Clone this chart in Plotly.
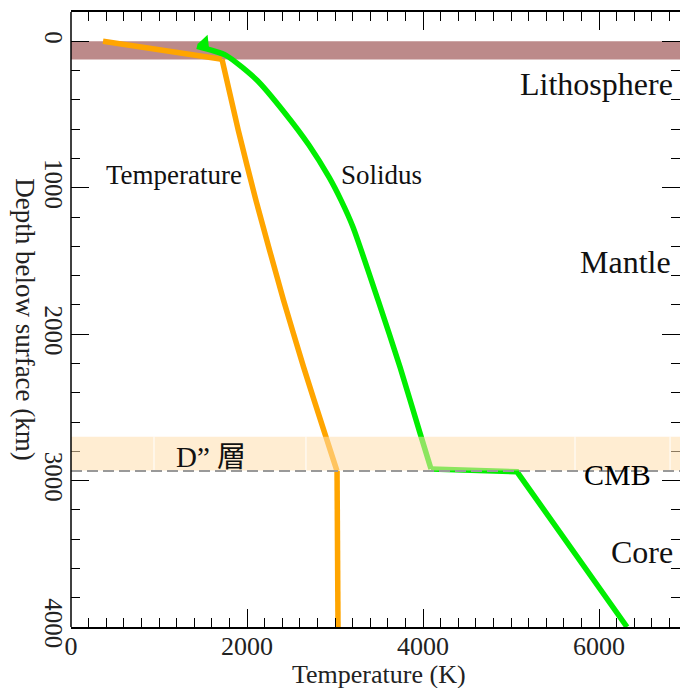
import plotly.graph_objects as go

# Temperature profile (K) vs depth (km): lithosphere segment, mantle curve, core
temp_litho_T = [364, 1716]
temp_litho_d = [0, 123]
temp_mantle_T = [1716, 1901, 2101, 2415, 2643, 2883, 3023]
temp_mantle_d = [123, 608, 1085, 1768, 2225, 2676, 2935]
temp_core_T = [3023, 3034]
temp_core_d = [2935, 4000]

# Solidus (K) vs depth (km): mantle curve, CMB jump, core
sol_mantle_T = [1432, 1761, 2114, 2432, 2705, 2932, 3068, 3205, 3489, 3739, 3966, 4091]
sol_mantle_d = [34, 96, 266, 491, 710, 928, 1085, 1270, 1768, 2225, 2676, 2921]
sol_core_T = [4091, 5068, 6318]
sol_core_d = [2921, 2940, 4000]

# layers (km)
litho = [0, 125]
d_layer = [2700, 2932]
cmb_depth = 2935
band_seams = [943, 2670, 5727, 6807]

# labels: (text, T, depth, size, anchor)
labels = [
    ("Temperature", 1170, 915, 27, "center"),
    ("Solidus", 3523, 915, 27, "center"),
    ("Lithosphere", 6866, 293, 32, "right"),
    ("Mantle", 6845, 1508, 32, "right"),
    ("Core", 6866, 3488, 32, "right"),
]

SERIF = "Liberation Serif, Times New Roman, serif"
ORANGE = "#FFA500"
GREEN = "#00EE00"

fig = go.Figure()
fig.add_trace(go.Scatter(x=temp_litho_T, y=temp_litho_d, mode="lines",
                         line=dict(color=ORANGE, width=5.5), hoverinfo="skip"))
fig.add_trace(go.Scatter(x=temp_mantle_T, y=temp_mantle_d, mode="lines",
                         line=dict(color=ORANGE, width=5.5, shape="spline", smoothing=0.6), hoverinfo="skip"))
fig.add_trace(go.Scatter(x=temp_core_T, y=temp_core_d, mode="lines",
                         line=dict(color=ORANGE, width=5.5), hoverinfo="skip"))
fig.add_trace(go.Scatter(x=sol_mantle_T, y=sol_mantle_d, mode="lines",
                         line=dict(color=GREEN, width=5.5, shape="spline", smoothing=0.6), hoverinfo="skip"))
fig.add_trace(go.Scatter(x=sol_core_T, y=sol_core_d, mode="lines",
                         line=dict(color=GREEN, width=5.5), hoverinfo="skip"))
fig.add_trace(go.Scatter(x=[sol_mantle_T[0] + 90], y=[sol_mantle_d[0] - 22], mode="markers",
                         marker=dict(symbol="triangle-left", size=14, color=GREEN, angle=-6),
                         hoverinfo="skip"))

shapes = []
shapes.append(dict(type="rect", xref="paper", x0=0, x1=1, yref="y", y0=litho[0], y1=litho[1],
                   fillcolor="#BC8A8A", line=dict(width=0), layer="below"))
shapes.append(dict(type="rect", xref="paper", x0=0, x1=1, yref="y", y0=d_layer[0], y1=d_layer[1],
                   fillcolor="navajowhite", opacity=0.55, line=dict(width=0), layer="above"))
for s in band_seams:
    shapes.append(dict(type="line", xref="x", x0=s, x1=s, yref="y", y0=d_layer[0], y1=d_layer[1],
                       line=dict(color="white", width=1), layer="above"))
shapes.append(dict(type="line", xref="paper", x0=0, x1=1, yref="y", y0=cmb_depth, y1=cmb_depth,
                   line=dict(color="#999999", width=2, dash="11px,5px"), layer="above"))
shapes.append(dict(type="line", xref="paper", x0=0, x1=0, yref="paper", y0=0, y1=1,
                   line=dict(color="black", width=1.5), layer="above"))

annotations = []
for text, tx, dy, size, anc in labels:
    annotations.append(dict(text=text, x=tx, y=dy, xref="x", yref="y", showarrow=False,
                            xanchor=anc, yanchor="middle",
                            font=dict(family=SERIF, size=size, color="#111111")))
annotations.append(dict(text="CMB", x=6205, y=2960, xref="x", yref="y", showarrow=False,
                        xanchor="center", yanchor="middle",
                        font=dict(family=SERIF, size=30, color="black")))
annotations.append(dict(text="D” 層", x=1590, y=2842, xref="x", yref="y", showarrow=False,
                        xanchor="center", yanchor="middle",
                        font=dict(family="Liberation Serif, Noto Sans CJK JP, serif", size=29, color="#111111")))
annotations.append(dict(text="Depth below surface (km)", x=-0.075, y=0.5, xref="paper", yref="paper",
                        showarrow=False, textangle=90, xanchor="center", yanchor="middle",
                        font=dict(family=SERIF, size=27, color="#222222")))
annotations.append(dict(text="Temperature (K)", x=0.505, y=-0.078, xref="paper", yref="paper",
                        showarrow=False, xanchor="center", yanchor="middle",
                        font=dict(family=SERIF, size=26, color="#222222")))

fig.update_layout(
    width=680, height=688,
    margin=dict(l=71, r=0, t=12, b=61),
    paper_bgcolor="white", plot_bgcolor="white",
    showlegend=False,
    shapes=shapes, annotations=annotations,
    xaxis=dict(range=[0, 6920], dtick=2000, tick0=0, ticks="inside", ticklen=18, tickwidth=1.3,
               tickcolor="black", showline=True, linecolor="black", linewidth=1.5, mirror="ticks",
               showgrid=False, zeroline=False, automargin=False, ticklabelstandoff=-5,
               minor=dict(dtick=200, ticks="inside", ticklen=9, tickwidth=1.2, tickcolor="black", showgrid=False),
               tickfont=dict(family=SERIF, size=26, color="#222222")),
    yaxis=dict(range=[4000, -200], dtick=1000, tick0=0, ticks="inside", ticklen=18, tickwidth=1.3,
               tickcolor="black", showline=False, mirror="ticks",
               showgrid=False, zeroline=False, tickangle=90, automargin=False,
               minor=dict(dtick=200, ticks="inside", ticklen=9, tickwidth=1.2, tickcolor="black", showgrid=False),
               tickfont=dict(family=SERIF, size=25, color="#222222")),
)

fig.write_html("out.html", config={"displayModeBar": False},
               post_script="document.body.style.margin='0';document.body.style.overflow='hidden';")
